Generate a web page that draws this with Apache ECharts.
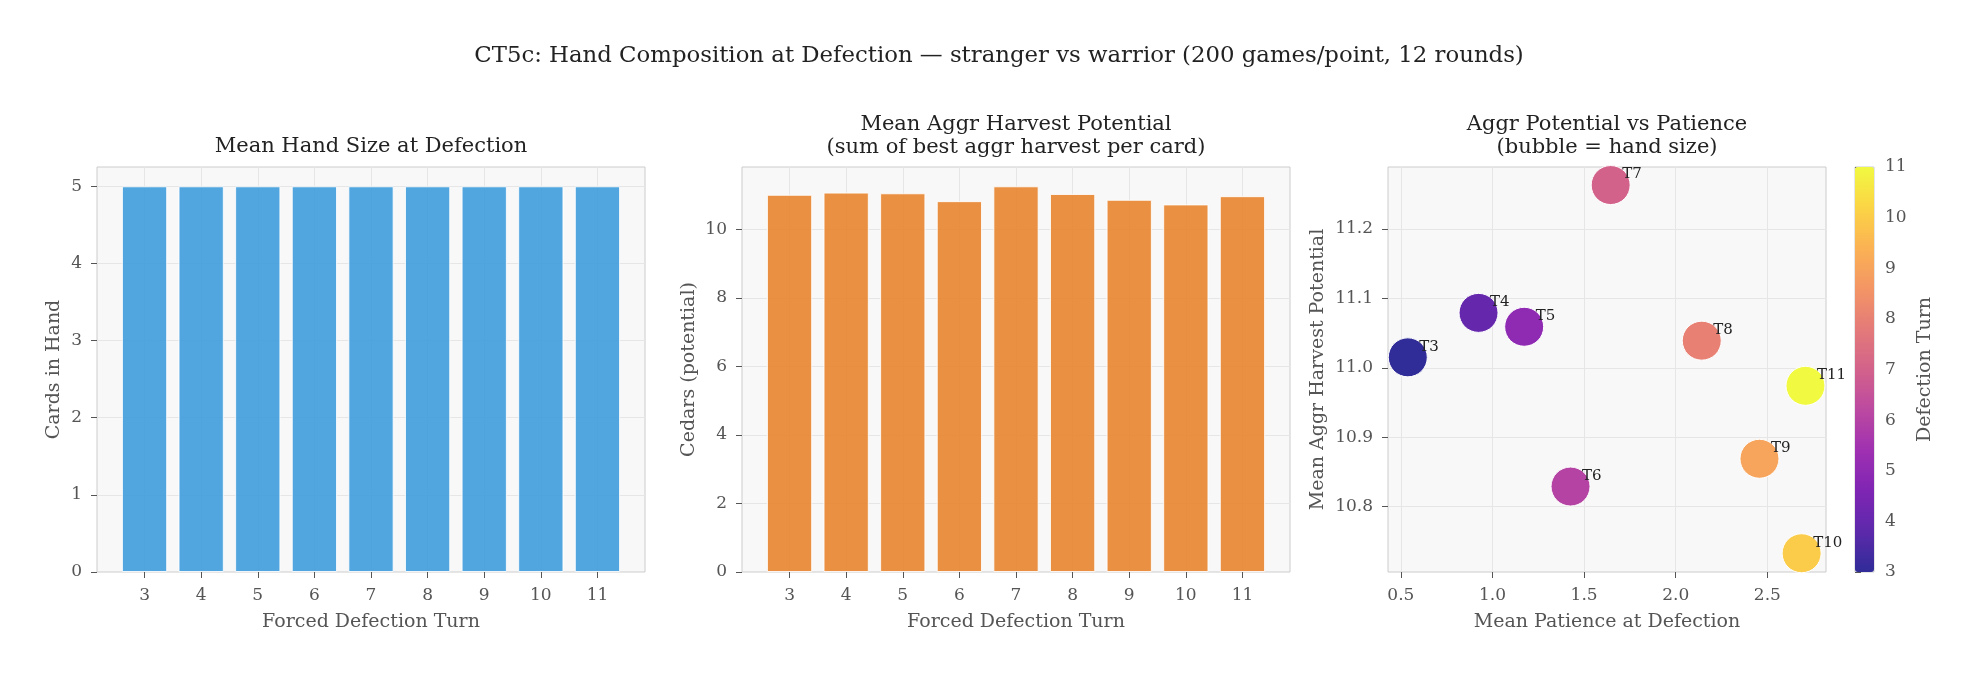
<!DOCTYPE html>
<html>
<head>
<meta charset="utf-8">
<script src="https://cdn.jsdelivr.net/npm/echarts@6/dist/echarts.min.js"></script>
<style>
html, body { margin: 0; padding: 0; background: #fff; }
#chart { width: 1981px; height: 675px; }
</style>
</head>
<body>
<div id="chart"></div>
<script>
// forced defection turns
var turns = [3, 4, 5, 6, 7, 8, 9, 10, 11];
// mean hand size at defection
var handSize = [5, 5, 5, 5, 5, 5, 5, 5, 5];
// mean aggr harvest potential
var aggrPotential = [11.015, 11.079, 11.059, 10.829, 11.263, 11.039, 10.869, 10.733, 10.974];
// mean patience at defection
var patience = [0.538, 0.924, 1.173, 1.426, 1.645, 2.142, 2.457, 2.687, 2.708];

var fontFam = 'DejaVu Serif';
var tickCol = '#555', nameCol = '#555', titleCol = '#222';

// plasma, pre-mixed at 0.85 alpha over the panel background
var plasma = ['#302c98', '#5c29ab', '#7f25b4', '#9f30b1', '#bc49a0', '#d3628b',
	'#e47a79', '#f39565', '#fbb253', '#fbd445', '#f1f941'];

function barData(vals) {
	var out = [];
	for (var i = 0; i < turns.length; i++)
		out.push([turns[i], vals[i]]);
	return out;
}

var scatterData = [];
for (var i = 0; i < turns.length; i++)
	scatterData.push([patience[i], aggrPotential[i], turns[i], handSize[i]]);

function maxOf(a) { return Math.max.apply(null, a); }

var labelStyle = { color: tickCol, fontFamily: fontFam, fontSize: 17 };
var tickStyle = { show: true, inside: false, length: 6, lineStyle: { color: tickCol, width: 1 } };
var splitStyle = { show: true, lineStyle: { color: '#e6e6e6', width: 1 } };
var nameStyle = { color: nameCol, fontFamily: fontFam, fontSize: 19 };
var subTitle = { fontFamily: fontFam, fontSize: 21, fontWeight: 'normal', color: titleCol, lineHeight: 23 };

function turnAxis(gi) {
	return {
		type: 'value', gridIndex: gi,
		min: 2.16, max: 11.84, splitNumber: 9,
		name: 'Forced Defection Turn', nameLocation: 'middle', nameGap: 40.5,
		nameTextStyle: nameStyle,
		axisLine: { show: false },
		axisTick: Object.assign({ customValues: turns }, tickStyle),
		axisLabel: Object.assign({ customValues: turns, margin: 15.5 }, labelStyle),
		splitLine: splitStyle
	};
}

var grids = [
	{ left: 97, top: 167, width: 548, height: 405 },
	{ left: 742, top: 167, width: 548, height: 405 },
	{ left: 1388, top: 167, width: 438, height: 405 },
	{ left: 1855, top: 167, width: 19, height: 405 }
];
grids.forEach(function (g, k) {
	g.show = true;
	g.borderColor = '#cccccc';
	g.borderWidth = 1;
	g.backgroundColor = k < 3 ? '#f8f8f8' : 'transparent';
});

var option = {
	backgroundColor: '#ffffff',
	animation: false,
	title: [
		{
			text: 'CT5c: Hand Composition at Defection \u2014 stranger vs warrior (200 games/point, 12 rounds)',
			left: 999, top: 43.3, textAlign: 'center', padding: 0,
			textStyle: { fontFamily: fontFam, fontSize: 22.8, fontWeight: 'normal', color: titleCol, lineHeight: 26 }
		},
		{
			text: 'Mean Hand Size at Defection',
			left: 371, top: 135, textAlign: 'center', padding: 0,
			textStyle: subTitle
		},
		{
			text: 'Mean Aggr Harvest Potential\n(sum of best aggr harvest per card)',
			left: 1016, top: 113, textAlign: 'center', padding: 0,
			textStyle: subTitle
		},
		{
			text: 'Aggr Potential vs Patience\n(bubble = hand size)',
			left: 1607, top: 113, textAlign: 'center', padding: 0,
			textStyle: subTitle
		}
	],
	grid: grids,
	xAxis: [
		turnAxis(0),
		turnAxis(1),
		{
			type: 'value', gridIndex: 2,
			min: 0.43, max: 2.82, splitNumber: 5,
			name: 'Mean Patience at Defection', nameLocation: 'middle', nameGap: 40.5,
			nameTextStyle: nameStyle,
			axisLine: { show: false },
			axisTick: Object.assign({ customValues: [0.5, 1.0, 1.5, 2.0, 2.5] }, tickStyle),
			axisLabel: Object.assign({ customValues: [0.5, 1.0, 1.5, 2.0, 2.5], margin: 15.5,
				formatter: function (v) { return v.toFixed(1); } }, labelStyle),
			splitLine: splitStyle
		},
		{ type: 'value', gridIndex: 3, min: 0, max: 1, show: false }
	],
	yAxis: [
		{
			type: 'value', gridIndex: 0,
			min: 0, max: maxOf(handSize) * 1.05, interval: 1,
			name: 'Cards in Hand', nameLocation: 'middle', nameGap: 33.5,
			nameTextStyle: nameStyle,
			axisLine: { show: false },
			axisTick: Object.assign({ customValues: [0, 1, 2, 3, 4, 5] }, tickStyle),
			axisLabel: Object.assign({ customValues: [0, 1, 2, 3, 4, 5], margin: 15 }, labelStyle),
			splitLine: splitStyle
		},
		{
			type: 'value', gridIndex: 1,
			min: 0, max: maxOf(aggrPotential) * 1.05, interval: 2,
			name: 'Cedars (potential)', nameLocation: 'middle', nameGap: 43,
			nameTextStyle: nameStyle,
			axisLine: { show: false },
			axisTick: Object.assign({ customValues: [0, 2, 4, 6, 8, 10] }, tickStyle),
			axisLabel: Object.assign({ customValues: [0, 2, 4, 6, 8, 10], margin: 15 }, labelStyle),
			splitLine: splitStyle
		},
		{
			type: 'value', gridIndex: 2,
			min: 10.706, max: 11.289, splitNumber: 5,
			name: 'Mean Aggr Harvest Potential', nameLocation: 'middle', nameGap: 60,
			nameTextStyle: nameStyle,
			axisLine: { show: false },
			axisTick: Object.assign({ customValues: [10.8, 10.9, 11.0, 11.1, 11.2] }, tickStyle),
			axisLabel: Object.assign({ customValues: [10.8, 10.9, 11.0, 11.1, 11.2], margin: 15,
				formatter: function (v) { return v.toFixed(1); } }, labelStyle),
			splitLine: splitStyle
		},
		{
			type: 'value', gridIndex: 3, position: 'right',
			min: 3, max: 11, interval: 1,
			name: 'Defection Turn', nameLocation: 'middle', nameGap: 42, nameRotate: 90,
			nameTextStyle: nameStyle,
			axisLine: { show: false },
			axisTick: tickStyle,
			axisLabel: Object.assign({ margin: 11 }, labelStyle),
			splitLine: { show: false }
		}
	],
	visualMap: {
		type: 'continuous',
		seriesIndex: 2,
		dimension: 2,
		min: 3, max: 11,
		calculable: false,
		left: 1855, top: 167,
		itemWidth: 19, itemHeight: 405,
		padding: 0,
		inRange: { color: plasma }
	},
	series: [
		{
			type: 'bar', xAxisIndex: 0, yAxisIndex: 0,
			data: barData(handSize),
			barWidth: '80%',
			itemStyle: { color: '#3498db', opacity: 0.85, borderColor: '#ffffff', borderWidth: 1 }
		},
		{
			type: 'bar', xAxisIndex: 1, yAxisIndex: 1,
			data: barData(aggrPotential),
			barWidth: '80%',
			itemStyle: { color: '#e67e22', opacity: 0.85, borderColor: '#ffffff', borderWidth: 1 }
		},
		{
			type: 'scatter', xAxisIndex: 2, yAxisIndex: 2,
			data: scatterData,
			symbolSize: function (d) { return d[3] * 7.8; },
			itemStyle: { borderColor: '#ffffff', borderWidth: 1, opacity: 1 },
			label: {
				show: true,
				position: [31.5, 17],
				align: 'left', verticalAlign: 'bottom',
				formatter: function (p) { return 'T' + p.value[2]; },
				color: '#222', fontFamily: fontFam, fontSize: 15
			}
		},
		{ type: 'scatter', xAxisIndex: 3, yAxisIndex: 3, data: [] }
	]
};

var myChart = echarts.init(document.getElementById('chart'));
myChart.setOption(option);
</script>
</body>
</html>
